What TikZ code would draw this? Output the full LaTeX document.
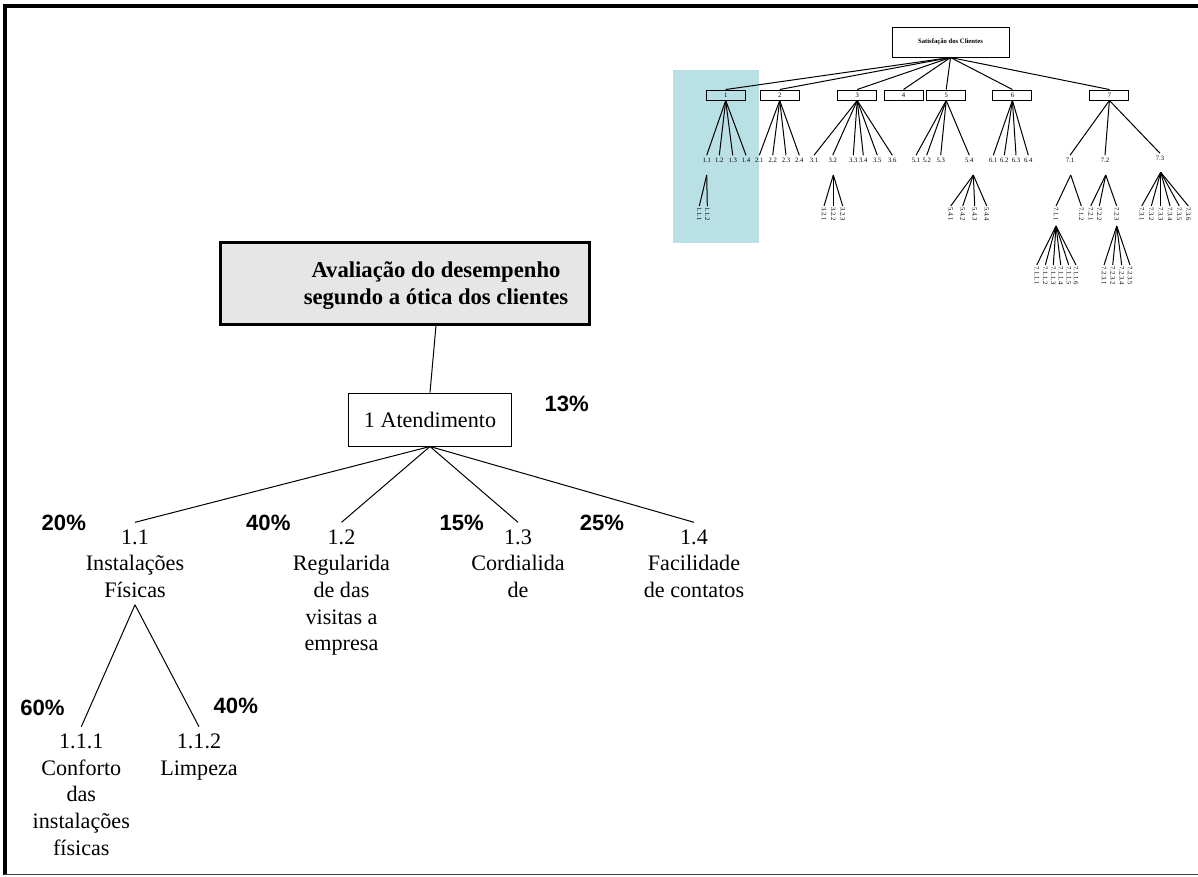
\documentclass[tikz,border=0pt]{standalone}
\usepackage{fontspec}
\setmainfont{Liberation Serif}
\newfontfamily\pctfont{Liberation Sans}
\definecolor{hilite}{RGB}{185,224,228}
\definecolor{boxgray}{RGB}{230,230,230}
\begin{document}
\begin{tikzpicture}[x=0.75pt,y=-0.75pt,
  line width=0.75pt,
  txt/.style={font=\fontsize{16.6}{20}\selectfont, align=center, inner sep=5pt, anchor=north},
  pct/.style={font=\pctfont\bfseries\fontsize{16.6}{20}\selectfont, inner sep=0pt},
  tiny/.style={font=\fontsize{5}{6}\selectfont, inner sep=1.5pt},
  vtiny/.style={font=\fontsize{5}{6}\selectfont, inner sep=0.6pt, rotate=-90, anchor=west},
  minibox/.style={draw, font=\fontsize{5}{6}\selectfont, minimum width=29.25pt, minimum height=7.5pt, inner sep=0pt}]
\useasboundingbox (0,0) rectangle (1198,876);

% frame
\draw[line width=3pt] (5,875) -- (5,5.5) -- (1198,5.5);
\draw[line width=1.1pt, black!75] (3.5,874.5) -- (1198,874.5);

% ---------- overview tree ----------
\fill[hilite] (673,70) rectangle (759,242.7);

\node[draw, minimum width=87.75pt, minimum height=22.5pt, inner sep=0pt,
      font=\bfseries\fontsize{5}{6}\selectfont] (root) at (950.5,42) {Satisfação dos Clientes};

\foreach \n/\x in {1/725.7, 2/779.7, 3/857.2, 4/903.5, 5/946.2, 6/1012.4, 7/1109.4}{
  \node[minibox] (b\n) at (\x,95) {\n};
  \draw (root.south) -- (b\n.north);
}

\foreach \p/\lab/\x/\y [count=\i] in {
  1/1.1/706.7/160, 1/1.2/719.3/160, 1/1.3/732.7/160, 1/1.4/746/160,
  2/2.1/759.3/160, 2/2.2/772.7/160, 2/2.3/786/160, 2/2.4/799.3/160,
  3/3.1/814/160, 3/3.2/832.7/160, 3/3.3/853.3/160, 3/3.4/863.3/160, 3/3.5/877.3/160, 3/3.6/892.3/160,
  5/5.1/916/160, 5/5.2/926.7/160, 5/5.3/940.7/160, 5/5.4/969.3/160,
  6/6.1/993.3/160, 6/6.2/1004.3/160, 6/6.3/1016/160, 6/6.4/1028.3/160,
  7/7.1/1070/160, 7/7.2/1105/160, 7/7.3/1160/158}{
  \node[tiny] (n\i) at (\x,\y) {\lab};
  \draw (b\p.south) -- (n\i.north);
}

% branching points below the second level
\coordinate (a11) at (706.7,175);
\coordinate (a32) at (833.3,175);
\coordinate (a54) at (973.3,175);
\coordinate (a71) at (1070.7,175);
\coordinate (a72) at (1105.7,175);
\coordinate (a73) at (1160.7,172.3);
\coordinate (a711) at (1056,226);
\coordinate (a723) at (1116.7,226);

\foreach \a/\lab/\x/\y [count=\i] in {
  a11/1.1.1/699.3/206, a11/1.1.2/707.3/206,
  a32/3.2.1/824/206, a32/3.2.2/833.3/206, a32/3.2.3/842.7/206,
  a54/5.4.1/950.7/206, a54/5.4.2/962.7/206, a54/5.4.3/974.7/206, a54/5.4.4/986.7/206,
  a71/7.1.1/1056/206, a71/7.1.2/1081.3/206,
  a72/7.2.1/1090.7/206, a72/7.2.2/1099.3/206, a72/7.2.3/1116.7/206,
  a73/7.3.1/1141.7/206, a73/7.3.2/1151.3/206, a73/7.3.3/1160.7/206,
  a73/7.3.4/1170/206, a73/7.3.5/1179.3/206, a73/7.3.6/1188.3/206,
  a711/7.1.1.1/1036.7/265, a711/7.1.1.2/1045.3/265, a711/7.1.1.3/1053.3/265,
  a711/7.1.1.4/1060.7/265, a711/7.1.1.5/1068.7/265, a711/7.1.1.6/1076/265,
  a723/7.2.3.1/1104/265, a723/7.2.3.2/1112.7/265, a723/7.2.3.4/1121.7/265, a723/7.2.3.5/1130/265}{
  \node[vtiny] (m\i) at (\x,\y) {\lab};
  \draw (\a) -- (m\i.west);
}

% ---------- detailed branch ----------
\node[draw, line width=2.25pt, fill=boxgray, minimum width=276.75pt, minimum height=61.5pt,
      inner sep=0pt] (title) at (404.5,283) {};
\node[font=\bfseries\fontsize{17}{20.25}\selectfont, align=center, inner sep=0pt, anchor=north]
      (ttext) at (436,261.3) {Avaliação do desempenho\\segundo a ótica dos clientes};

\node[draw, minimum width=122.25pt, minimum height=39.75pt, inner sep=0pt,
      font=\fontsize{16.6}{20}\selectfont] (atend) at (430,419.5) {1 Atendimento};
\draw (ttext |- title.south) -- (atend.north);
\node[pct] (p1) at (566.7,404) {13\%};

\node[txt] (c11) at (135,522.3) {1.1\\Instalações\\Físicas};
\node[txt] (c12) at (341.5,522.3) {1.2\\Regularida\\de das\\visitas a\\empresa};
\node[txt] (c13) at (518,522.3) {1.3\\Cordialida\\de};
\node[txt] (c14) at (694,522.3) {1.4\\Facilidade\\de contatos};
\foreach \c in {c11,c12,c13,c14}{\draw (atend.south) -- (\c.north);}

\node[pct] (p11) at (63.8,523) {20\%};
\node[pct] (p12) at (268.3,523) {40\%};
\node[pct] (p13) at (461.7,523) {15\%};
\node[pct] (p14) at (602,523) {25\%};

\node[txt] (c111) at (81.3,726.7) {1.1.1\\Conforto\\das\\instalações\\físicas};
\node[txt] (c112) at (199,726.7) {1.1.2\\Limpeza};
\foreach \c in {c111,c112}{\draw (c11.south) -- (\c.north);}

\node[pct] (p111) at (42.5,708) {60\%};
\node[pct] (p112) at (235.8,706.3) {40\%};
\end{tikzpicture}
\end{document}
